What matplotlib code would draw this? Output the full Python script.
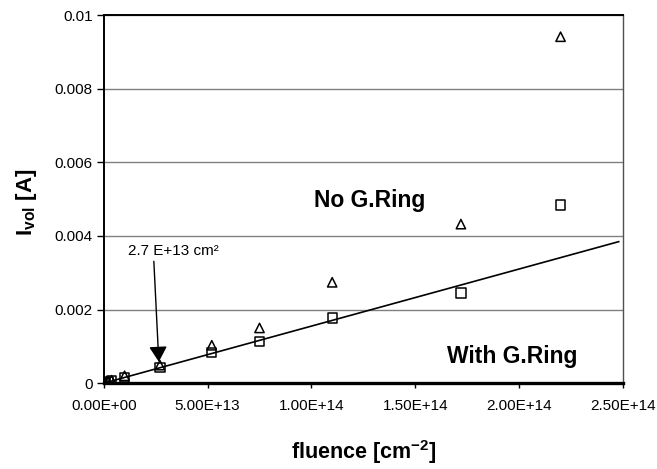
import matplotlib
matplotlib.use("Agg")
import matplotlib.pyplot as plt
import numpy as np

plt.rcParams['font.family'] = ['Liberation Sans', 'DejaVu Sans']
plt.rcParams['mathtext.fontset'] = 'custom'
plt.rcParams['mathtext.rm'] = 'Liberation Sans'
plt.rcParams['mathtext.bf'] = 'Liberation Sans:bold'

# fluence [cm^-2] and volume current [A]
fluence = [5e11, 2e12, 3.7e12, 1e13, 2.7e13, 5.2e13, 7.5e13, 1.1e14, 1.72e14, 2.2e14]
i_with_ring = [0.00001, 0.00003, 0.00006, 0.00016, 0.00042, 0.00084, 0.00114, 0.00177, 0.00245, 0.00484]
i_no_ring = [0.00001, 0.00004, 0.00008, 0.00020, 0.00049, 0.00103, 0.00150, 0.00274, 0.00432, 0.00941]

# linear fit through the guard-ring points
fit_x = [0, 2.48e14]
fit_slope = 1.55e-17

fig = plt.figure(figsize=(6.57, 4.69), dpi=100)
ax = fig.add_axes([0.158, 0.183, 0.79, 0.785])

ax.set_xlim(0, 2.5e14)
ax.set_ylim(0, 0.01)
ax.set_yticks([0, 0.002, 0.004, 0.006, 0.008, 0.01])
ax.set_yticklabels(['0', '0.002', '0.004', '0.006', '0.008', '0.01'])
ax.set_xticks([0, 5e13, 1e14, 1.5e14, 2e14, 2.5e14])
ax.set_xticklabels(['0.00E+00', '5.00E+13', '1.00E+14', '1.50E+14', '2.00E+14', '2.50E+14'])
ax.tick_params(axis='y', labelsize=11, length=5, width=1, pad=3)
ax.tick_params(axis='x', labelsize=11, length=3.5, width=1, pad=8)

ax.yaxis.grid(True, color='#808080', linewidth=1)
ax.set_axisbelow(True)
for s in ['top', 'left']:
    ax.spines[s].set_color('black')
    ax.spines[s].set_linewidth(1.4)
ax.spines['bottom'].set_linewidth(2.4)
ax.spines['right'].set_color('#505050')
ax.spines['right'].set_linewidth(1)

ax.plot(fit_x, [fit_slope * x for x in fit_x], color='black', linewidth=1.2, zorder=2)
# open markers, no fill, so overlapping points stay visible
ax.scatter(fluence, i_with_ring, marker='s', s=45, facecolors='none', edgecolors='black', linewidths=1.1, zorder=5)
ax.scatter(fluence, i_no_ring, marker='^', s=45, facecolors='none', edgecolors='black', linewidths=1.1, zorder=5)

ax.text(3.33e13, 0.0036, '2.7 E+13 cm²', fontsize=11, ha='center', va='center')
ax.annotate('', xy=(2.65e13, 0.00058), xytext=(2.41e13, 0.00331),
            arrowprops=dict(arrowstyle='-|>,head_length=0.85,head_width=0.5', color='black',
                            lw=1, shrinkA=0, shrinkB=0, mutation_scale=11), zorder=4)

ax.text(1.283e14, 0.00497, 'No G.Ring', fontsize=16.5, fontweight='bold', ha='center', va='center')
ax.text(1.965e14, 0.000715, 'With G.Ring', fontsize=16.5, fontweight='bold', ha='center', va='center')

ax.set_xlabel('fluence [cm$^{\\mathbf{-2}}$]', fontsize=15.5, fontweight='bold')
ax.set_ylabel('$\\mathbf{I_{vol}}$ [A]', fontsize=16, fontweight='bold')
ax.xaxis.set_label_coords(0.5, -0.15)
ax.yaxis.set_label_coords(-0.125, 0.49)

fig.savefig('out.png', dpi=100)
